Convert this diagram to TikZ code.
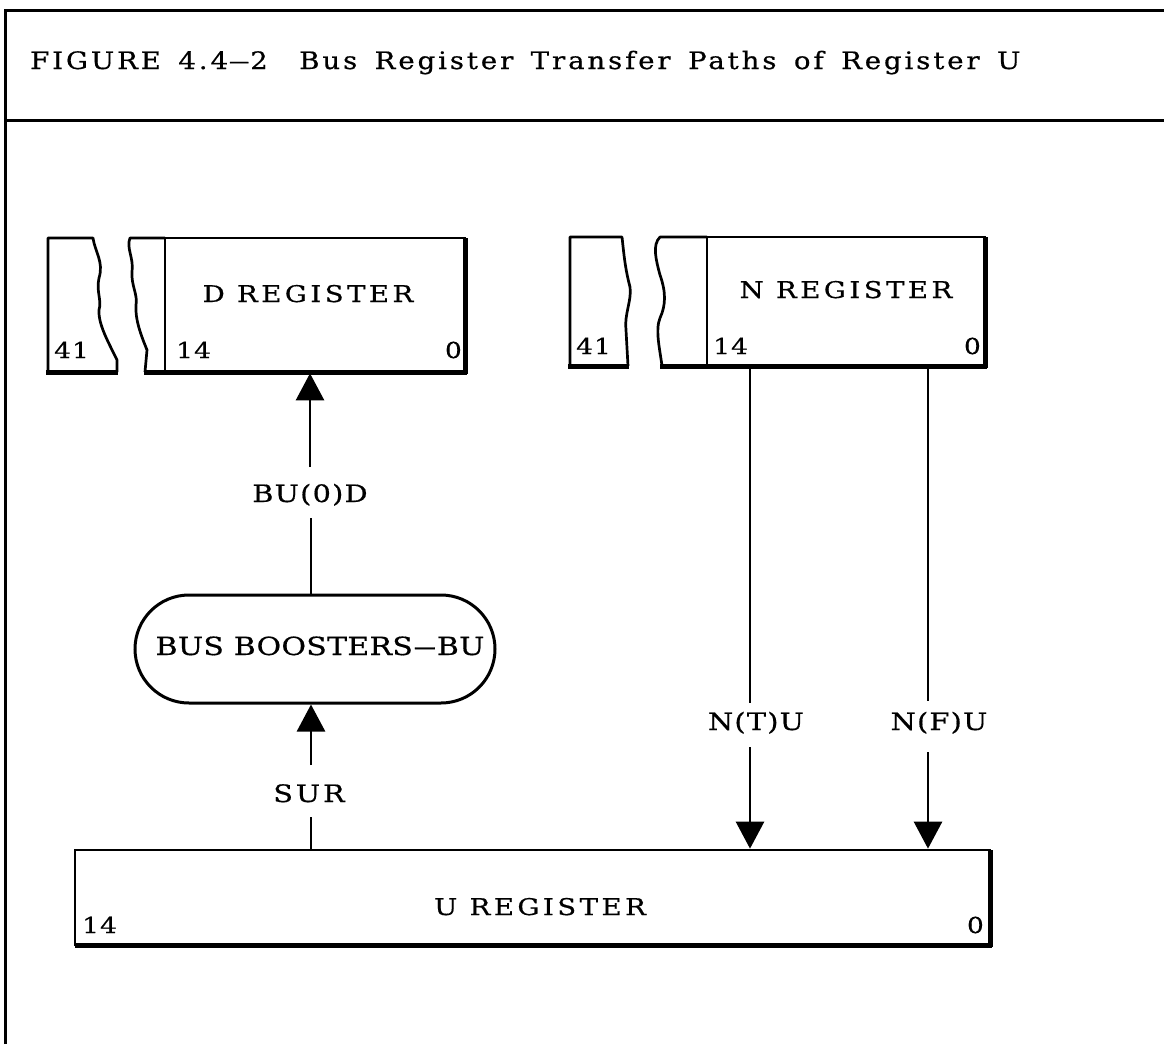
\documentclass[tikz,border=0pt]{standalone}
\usepackage{fontspec}
\usepackage{graphicx}
\usetikzlibrary{arrows.meta}
\newfontfamily\labf[FakeStretch=1.2,LetterSpace=5,FakeBold=0.6]{DejaVu Serif}
\newfontfamily\bbf[FakeStretch=1.2,LetterSpace=1,FakeBold=0.6]{DejaVu Serif}
\newfontfamily\regf[FakeStretch=1.2,LetterSpace=15,FakeBold=0.6]{DejaVu Serif}
\newfontfamily\surf[FakeStretch=1.2,LetterSpace=12,FakeBold=0.6]{DejaVu Serif}
\newfontfamily\ttlf[FakeStretch=1.15,LetterSpace=12,WordSpace=1.5,FakeBold=0.6]{DejaVu Serif}
\newcommand{\ldash}{\scalebox{1.6}[1]{–}}
\tikzset{
  reg/.style={draw, line width=2.7pt, minimum width=#1, inner sep=0pt},
  thk/.style={line width=5pt, line cap=butt},
  thn/.style={line width=2.7pt, line join=round},
  lab/.style={inner sep=0pt, font=\labf\fontsize{24}{24}\selectfont},
  num/.style={inner sep=0pt, font=\labf\fontsize{22}{22}\selectfont},
  regname/.style={inner sep=0pt, font=\regf\fontsize{23}{23}\selectfont},
  conn/.style={line width=2.7pt},
  arr/.style={line width=2.7pt, -{Triangle[width=28pt,length=27pt]}},
}
\begin{document}
\begin{tikzpicture}[x=1pt,y=-1pt]
\useasboundingbox (0,0) rectangle (1164,1044);
\fill[white] (0,0) rectangle (1164,1044);
% frame
\draw[line width=3pt] (5,1044) -- (5,10) -- (1164,10);
\draw[line width=3pt] (5,120) -- (1164,120);
\node[anchor=base west, inner sep=0pt, font=\ttlf\fontsize{24}{24}\selectfont] (title) at (30,69) {FIGURE 4.\hspace{3pt}4\ldash 2\hspace{14pt} Bus Register Transfer Paths of Register U};

% D register
\node[reg=300pt, minimum height=134pt] (D) at (315,305) {};
\draw[thn] (48,372) -- (48,238) -- (93,238) .. controls (95,252) and (104,262) .. (99,278)
  .. controls (96,292) and (102,300) .. (99,310) .. controls (98,325) and (110,345) .. (117,360) -- (117,372);
\draw[thk] (46,372) -- (118,372);
\draw[thn] (165,238) -- (130,238) .. controls (126,248) and (134,258) .. (132,272)
  .. controls (131,285) and (138,295) .. (136,305) .. controls (135,320) and (141,335) .. (147,350) -- (145,372);
\draw[thk] (144,372) -- (467,372);
\draw[thk] (465,238) -- (465,374);
\node[regname, anchor=base] (Dt) at (308,302) {D REGISTER};
\node[num, anchor=base west] (D14) at (176,358) {14};
\node[num, anchor=base east] (D0) at (462,358) {0};
\node[num, anchor=base west] (D41) at (54,358) {41};

% N register
\node[reg=278pt, minimum height=129pt] (N) at (846,301.5) {};
\draw[thn] (570,366) -- (570,237) -- (622,237) .. controls (624,255) and (625,268) .. (630,287)
  .. controls (632,300) and (624,315) .. (626,330) -- (628,366);
\draw[thk] (568,366) -- (629,366);
\draw[thn] (707,237) -- (660,237) .. controls (652,245) and (656,260) .. (660,275)
  .. controls (666,292) and (666,305) .. (660,318) .. controls (655,330) and (660,350) .. (662,366);
\draw[thk] (660,366) -- (987,366);
\draw[thk] (985,237) -- (985,368);
\node[regname, anchor=base] (Nt) at (846,298) {N REGISTER};
\node[num, anchor=base west] (N14) at (713,354) {14};
\node[num, anchor=base east] (N0) at (981,354) {0};
\node[num, anchor=base west] (N41) at (576,354) {41};

% Bus boosters
\node[draw, line width=3pt, rounded corners=54pt, minimum width=360pt, minimum height=108pt, inner sep=0pt] (BB) at (315,649) {};
\node[inner sep=0pt, anchor=base, font=\bbf\fontsize{25}{25}\selectfont] (BBt) at (320,655) {BUS BOOSTERS\ldash BU};

% U register
\node[reg=915pt, minimum height=95pt] (U) at (532.5,897.5) {};
\draw[thk] (75,945) -- (992,945);
\draw[thk] (990,850) -- (990,947);
\node[regname, anchor=base] (Ut) at (540,915) {U REGISTER};
\node[num, anchor=base west] (U14) at (82,933) {14};
\node[num, anchor=base east] (U0) at (984,933) {0};

% labels on connectors
\node[lab, anchor=base] (BUD) at (310,502) {BU(0)D};
\node[inner sep=0pt, font=\surf\fontsize{24}{24}\selectfont, anchor=base] (SUR) at (309,802) {SUR};
\node[lab, anchor=base] (NTU) at (756,730) {N(T)U};
\node[lab, anchor=base] (NFU) at (939,730) {N(F)U};

% connectors
\draw[conn] (BB.north -| 311,0) -- (311,518);
\draw[arr] (310,467) -- (D.south -| 310,0);
\draw[arr] (311,765) -- (BB.south -| 311,0);
\draw[conn] (311,817) -- (U.north -| 311,0);
\draw[conn] (N.south -| 750,0) -- (750,703);
\draw[arr] (750,747) -- (U.north -| 750,0);
\draw[conn] (N.south -| 928,0) -- (928,701);
\draw[arr] (928,752) -- (U.north -| 928,0);
\end{tikzpicture}
\end{document}
